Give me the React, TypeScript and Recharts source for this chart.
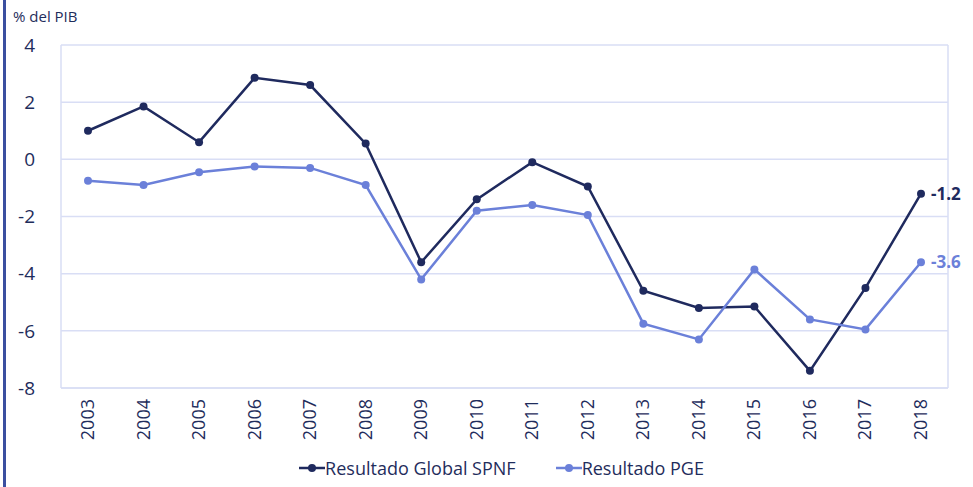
import { LineChart, Line, XAxis, YAxis, CartesianGrid, LabelList } from "recharts";

const years = ["2003", "2004", "2005", "2006", "2007", "2008", "2009", "2010", "2011", "2012", "2013", "2014", "2015", "2016", "2017", "2018"];
const spnf = [1.0, 1.85, 0.6, 2.85, 2.6, 0.55, -3.6, -1.4, -0.1, -0.95, -4.6, -5.2, -5.15, -7.4, -4.5, -1.2];
const pge = [-0.75, -0.9, -0.45, -0.25, -0.3, -0.9, -4.2, -1.8, -1.6, -1.95, -5.75, -6.3, -3.85, -5.6, -5.95, -3.6];
const yTicks = [-8, -6, -4, -2, 0, 2, 4];

const NAVY = "#1f2a5e";
const LIGHT = "#6b80d9";
const GRID = "#d9def5";
const TEXT = "#1f2d5c";
const FONT = "'Open Sans', sans-serif";

const data = years.map((y, i) => ({ year: y, spnf: spnf[i], pge: pge[i] }));

function YearTick({ x, y, payload }: any) {
  return (
    <text x={x} y={y} transform={`rotate(-90 ${x} ${y})`} dy={6} textAnchor="end" fill={TEXT} fontSize={18} fontFamily={FONT}>
      {payload.value}
    </text>
  );
}

function lastLabel(color: string) {
  return ({ x, y, index, value }: any) =>
    index === years.length - 1 ? (
      <text x={x + 10} y={y} dy={6} fill={color} fontSize={17} fontWeight="bold" fontFamily={FONT}>
        {value.toFixed(1)}
      </text>
    ) : null;
}

function LegendItem({ color, label }: { color: string; label: string }) {
  return (
    <div style={{ display: "flex", alignItems: "center" }}>
      <svg width={26} height={10}>
        <line x1={0} y1={5} x2={26} y2={5} stroke={color} strokeWidth={2.5} />
        <circle cx={13} cy={5} r={4} fill={color} />
      </svg>
      <span style={{ color: TEXT, fontSize: 18, fontFamily: FONT }}>{label}</span>
    </div>
  );
}

export default function App() {
  return (
    <div style={{ position: "absolute", left: 0, top: 0, width: 973, height: 487, background: "#fff" }}>
      <div style={{ position: "absolute", left: 3, top: 0, width: 3, height: 487, background: "#3b4fa0" }} />
      <div style={{ position: "absolute", left: 13, top: 6, fontSize: 15, color: TEXT, fontFamily: FONT }}>% del PIB</div>
      <LineChart width={973} height={455} data={data} margin={{ top: 45, right: 25, left: 0, bottom: 0 }}>
        <CartesianGrid
          stroke={GRID}
          strokeWidth={1.5}
          verticalCoordinatesGenerator={({ offset }: any) => [offset.left, offset.left + offset.width]}
        />
        <XAxis
          dataKey="year"
          tick={<YearTick />}
          tickLine={false}
          axisLine={{ stroke: GRID, strokeWidth: 1.5 }}
          interval={0}
          height={67}
          tickMargin={5}
          padding={{ left: 27, right: 27 }}
        />
        <YAxis
          domain={[-8, 4]}
          ticks={yTicks}
          width={61}
          tickLine={false}
          axisLine={false}
          tickMargin={20}
          tick={{ fill: TEXT, fontSize: 19, fontFamily: FONT }}
        />
        <Line dataKey="spnf" stroke={NAVY} strokeWidth={2.5} dot={{ r: 4, fill: NAVY, stroke: NAVY, strokeWidth: 0 }} isAnimationActive={false}>
          <LabelList dataKey="spnf" content={lastLabel(NAVY)} />
        </Line>
        <Line dataKey="pge" stroke={LIGHT} strokeWidth={2.5} dot={{ r: 4, fill: LIGHT, stroke: LIGHT, strokeWidth: 0 }} isAnimationActive={false}>
          <LabelList dataKey="pge" content={lastLabel(LIGHT)} />
        </Line>
      </LineChart>
      <div style={{ position: "absolute", left: 0, top: 456, width: 973, display: "flex", justifyContent: "center", gap: 40, paddingLeft: 30, boxSizing: "border-box" }}>
        <LegendItem color={NAVY} label="Resultado Global SPNF" />
        <LegendItem color={LIGHT} label="Resultado PGE" />
      </div>
    </div>
  );
}
